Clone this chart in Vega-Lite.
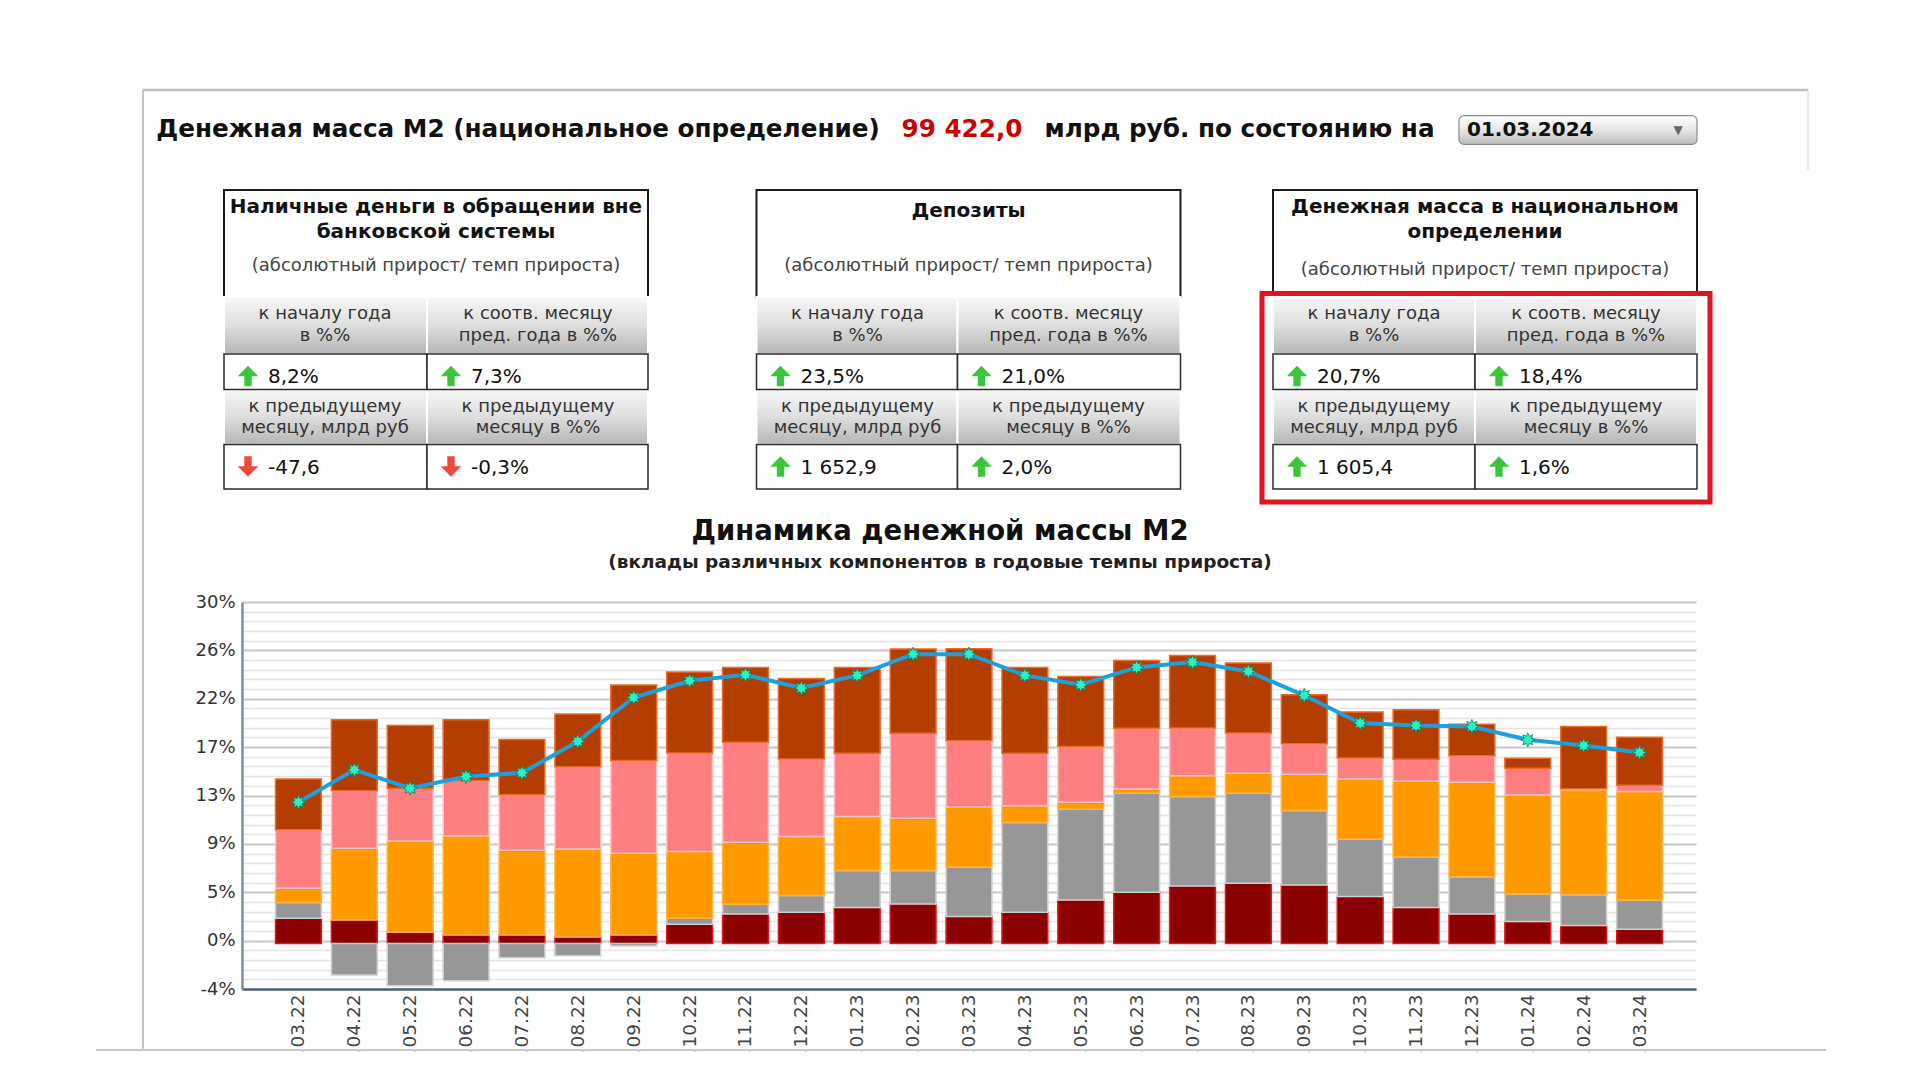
{
  "$schema": "https://vega.github.io/schema/vega-lite/v6.json",
  "background": "white",
  "padding": {"left": 95, "top": 88, "right": 0, "bottom": 0},
  "config": {
    "view": {"stroke": null},
    "font": "DejaVu Sans",
    "concat": {"spacing": 0}
  },
  "datasets": {
    "comp": [
      {"m":".03.22","c":"cash","v":2.21},{"m":".03.22","c":"dep1","v":1.38},{"m":".03.22","c":"dep2","v":1.26},{"m":".03.22","c":"dep3","v":5.13},{"m":".03.22","c":"dep4","v":4.48},
      {"m":".04.22","c":"cash","v":2.07},{"m":".04.22","c":"dep1","v":-2.77},{"m":".04.22","c":"dep2","v":6.30},{"m":".04.22","c":"dep3","v":5.04},{"m":".04.22","c":"dep4","v":6.24},
      {"m":".05.22","c":"cash","v":0.98},{"m":".05.22","c":"dep1","v":-3.71},{"m":".05.22","c":"dep2","v":8.03},{"m":".05.22","c":"dep3","v":4.63},{"m":".05.22","c":"dep4","v":5.51},
      {"m":".06.22","c":"cash","v":0.75},{"m":".06.22","c":"dep1","v":-3.27},{"m":".06.22","c":"dep2","v":8.70},{"m":".06.22","c":"dep3","v":4.87},{"m":".06.22","c":"dep4","v":5.33},
      {"m":".07.22","c":"cash","v":0.75},{"m":".07.22","c":"dep1","v":-1.25},{"m":".07.22","c":"dep2","v":7.44},{"m":".07.22","c":"dep3","v":4.87},{"m":".07.22","c":"dep4","v":4.87},
      {"m":".08.22","c":"cash","v":0.57},{"m":".08.22","c":"dep1","v":-1.07},{"m":".08.22","c":"dep2","v":7.74},{"m":".08.22","c":"dep3","v":7.21},{"m":".08.22","c":"dep4","v":4.63},
      {"m":".09.22","c":"cash","v":0.75},{"m":".09.22","c":"dep1","v":-0.22},{"m":".09.22","c":"dep2","v":7.18},{"m":".09.22","c":"dep3","v":8.15},{"m":".09.22","c":"dep4","v":6.62},
      {"m":".10.22","c":"cash","v":1.69},{"m":".10.22","c":"dep1","v":0.53},{"m":".10.22","c":"dep2","v":5.86},{"m":".10.22","c":"dep3","v":8.65},{"m":".10.22","c":"dep4","v":7.12},
      {"m":".11.22","c":"cash","v":2.59},{"m":".11.22","c":"dep1","v":0.85},{"m":".11.22","c":"dep2","v":5.45},{"m":".11.22","c":"dep3","v":8.79},{"m":".11.22","c":"dep4","v":6.57},
      {"m":".12.22","c":"cash","v":2.74},{"m":".12.22","c":"dep1","v":1.47},{"m":".12.22","c":"dep2","v":5.19},{"m":".12.22","c":"dep3","v":6.80},{"m":".12.22","c":"dep4","v":7.09},
      {"m":".01.23","c":"cash","v":3.15},{"m":".01.23","c":"dep1","v":3.25},{"m":".01.23","c":"dep2","v":4.75},{"m":".01.23","c":"dep3","v":5.57},{"m":".01.23","c":"dep4","v":7.53},
      {"m":".02.23","c":"cash","v":3.47},{"m":".02.23","c":"dep1","v":2.93},{"m":".02.23","c":"dep2","v":4.60},{"m":".02.23","c":"dep3","v":7.47},{"m":".02.23","c":"dep4","v":7.39},
      {"m":".03.23","c":"cash","v":2.36},{"m":".03.23","c":"dep1","v":4.34},{"m":".03.23","c":"dep2","v":5.28},{"m":".03.23","c":"dep3","v":5.83},{"m":".03.23","c":"dep4","v":8.09},
      {"m":".04.23","c":"cash","v":2.74},{"m":".04.23","c":"dep1","v":7.88},{"m":".04.23","c":"dep2","v":1.49},{"m":".04.23","c":"dep3","v":4.60},{"m":".04.23","c":"dep4","v":7.53},
      {"m":".05.23","c":"cash","v":3.82},{"m":".05.23","c":"dep1","v":8.00},{"m":".05.23","c":"dep2","v":0.59},{"m":".05.23","c":"dep3","v":4.89},{"m":".05.23","c":"dep4","v":6.15},
      {"m":".06.23","c":"cash","v":4.50},{"m":".06.23","c":"dep1","v":8.70},{"m":".06.23","c":"dep2","v":0.38},{"m":".06.23","c":"dep3","v":5.33},{"m":".06.23","c":"dep4","v":5.95},
      {"m":".07.23","c":"cash","v":5.06},{"m":".07.23","c":"dep1","v":7.85},{"m":".07.23","c":"dep2","v":1.82},{"m":".07.23","c":"dep3","v":4.19},{"m":".07.23","c":"dep4","v":6.39},
      {"m":".08.23","c":"cash","v":5.29},{"m":".08.23","c":"dep1","v":7.91},{"m":".08.23","c":"dep2","v":1.76},{"m":".08.23","c":"dep3","v":3.52},{"m":".08.23","c":"dep4","v":6.15},
      {"m":".09.23","c":"cash","v":5.14},{"m":".09.23","c":"dep1","v":6.54},{"m":".09.23","c":"dep2","v":3.19},{"m":".09.23","c":"dep3","v":2.67},{"m":".09.23","c":"dep4","v":4.31},
      {"m":".10.23","c":"cash","v":4.12},{"m":".10.23","c":"dep1","v":5.04},{"m":".10.23","c":"dep2","v":5.28},{"m":".10.23","c":"dep3","v":1.85},{"m":".10.23","c":"dep4","v":4.04},
      {"m":".11.23","c":"cash","v":3.15},{"m":".11.23","c":"dep1","v":4.45},{"m":".11.23","c":"dep2","v":6.68},{"m":".11.23","c":"dep3","v":1.91},{"m":".11.23","c":"dep4","v":4.34},
      {"m":".12.23","c":"cash","v":2.59},{"m":".12.23","c":"dep1","v":3.28},{"m":".12.23","c":"dep2","v":8.29},{"m":".12.23","c":"dep3","v":2.34},{"m":".12.23","c":"dep4","v":2.76},
      {"m":".01.24","c":"cash","v":1.92},{"m":".01.24","c":"dep1","v":2.43},{"m":".01.24","c":"dep2","v":8.70},{"m":".01.24","c":"dep3","v":2.34},{"m":".01.24","c":"dep4","v":0.88},
      {"m":".02.24","c":"cash","v":1.57},{"m":".02.24","c":"dep1","v":2.70},{"m":".02.24","c":"dep2","v":9.23},{"m":".02.24","c":"dep3","v":0.09},{"m":".02.24","c":"dep4","v":5.48},
      {"m":".03.24","c":"cash","v":1.25},{"m":".03.24","c":"dep1","v":2.58},{"m":".03.24","c":"dep2","v":9.53},{"m":".03.24","c":"dep3","v":0.53},{"m":".03.24","c":"dep4","v":4.22}
    ],
    "m2": [
      {"m":".03.22","g":12.41},{"m":".04.22","g":15.25},{"m":".05.22","g":13.64},{"m":".06.22","g":14.67},{"m":".07.22","g":14.99},
      {"m":".08.22","g":17.75},{"m":".09.22","g":21.61},{"m":".10.22","g":23.08},{"m":".11.22","g":23.61},{"m":".12.22","g":22.44},
      {"m":".01.23","g":23.55},{"m":".02.23","g":25.42},{"m":".03.23","g":25.42},{"m":".04.23","g":23.55},{"m":".05.23","g":22.73},
      {"m":".06.23","g":24.25},{"m":".07.23","g":24.72},{"m":".08.23","g":23.90},{"m":".09.23","g":21.79},{"m":".10.23","g":19.36},
      {"m":".11.23","g":19.15},{"m":".12.23","g":19.06},{"m":".01.24","g":17.89},{"m":".02.24","g":17.39},{"m":".03.24","g":16.78}
    ],
    "cells": [
      {"tbl":"t1","kind":"title","r":0,"r2":1,"c":0,"c2":2,"txt":"Наличные деньги в обращении вне\nбанковской системы","sub":"(абсолютный прирост/ темп прироста)"},
      {"tbl":"t1","kind":"head","r":1,"r2":2,"c":0,"c2":1,"txt":"к началу года\nв %%"},
      {"tbl":"t1","kind":"head","r":1,"r2":2,"c":1,"c2":2,"txt":"к соотв. месяцу\nпред. года в %%"},
      {"tbl":"t1","kind":"val","r":2,"r2":3,"c":0,"c2":1,"txt":"8,2%","dir":"up"},
      {"tbl":"t1","kind":"val","r":2,"r2":3,"c":1,"c2":2,"txt":"7,3%","dir":"up"},
      {"tbl":"t1","kind":"head","r":3,"r2":4,"c":0,"c2":1,"txt":"к предыдущему\nмесяцу, млрд руб"},
      {"tbl":"t1","kind":"head","r":3,"r2":4,"c":1,"c2":2,"txt":"к предыдущему\nмесяцу в %%"},
      {"tbl":"t1","kind":"val","r":4,"r2":5,"c":0,"c2":1,"txt":"-47,6","dir":"down"},
      {"tbl":"t1","kind":"val","r":4,"r2":5,"c":1,"c2":2,"txt":"-0,3%","dir":"down"},
      {"tbl":"t2","kind":"title","r":0,"r2":1,"c":3,"c2":5,"txt":"Депозиты","sub":"(абсолютный прирост/ темп прироста)"},
      {"tbl":"t2","kind":"head","r":1,"r2":2,"c":3,"c2":4,"txt":"к началу года\nв %%"},
      {"tbl":"t2","kind":"head","r":1,"r2":2,"c":4,"c2":5,"txt":"к соотв. месяцу\nпред. года в %%"},
      {"tbl":"t2","kind":"val","r":2,"r2":3,"c":3,"c2":4,"txt":"23,5%","dir":"up"},
      {"tbl":"t2","kind":"val","r":2,"r2":3,"c":4,"c2":5,"txt":"21,0%","dir":"up"},
      {"tbl":"t2","kind":"head","r":3,"r2":4,"c":3,"c2":4,"txt":"к предыдущему\nмесяцу, млрд руб"},
      {"tbl":"t2","kind":"head","r":3,"r2":4,"c":4,"c2":5,"txt":"к предыдущему\nмесяцу в %%"},
      {"tbl":"t2","kind":"val","r":4,"r2":5,"c":3,"c2":4,"txt":"1 652,9","dir":"up"},
      {"tbl":"t2","kind":"val","r":4,"r2":5,"c":4,"c2":5,"txt":"2,0%","dir":"up"},
      {"tbl":"t3","kind":"title","r":0,"r2":1,"c":6,"c2":8,"txt":"Денежная масса в национальном\nопределении","sub":"(абсолютный прирост/ темп прироста)"},
      {"tbl":"t3","kind":"head","r":1,"r2":2,"c":6,"c2":7,"txt":"к началу года\nв %%"},
      {"tbl":"t3","kind":"head","r":1,"r2":2,"c":7,"c2":8,"txt":"к соотв. месяцу\nпред. года в %%"},
      {"tbl":"t3","kind":"val","r":2,"r2":3,"c":6,"c2":7,"txt":"20,7%","dir":"up"},
      {"tbl":"t3","kind":"val","r":2,"r2":3,"c":7,"c2":8,"txt":"18,4%","dir":"up"},
      {"tbl":"t3","kind":"head","r":3,"r2":4,"c":6,"c2":7,"txt":"к предыдущему\nмесяцу, млрд руб"},
      {"tbl":"t3","kind":"head","r":3,"r2":4,"c":7,"c2":8,"txt":"к предыдущему\nмесяцу в %%"},
      {"tbl":"t3","kind":"val","r":4,"r2":5,"c":6,"c2":7,"txt":"1 605,4","dir":"up"},
      {"tbl":"t3","kind":"val","r":4,"r2":5,"c":7,"c2":8,"txt":"1,6%","dir":"up"}
    ]
  },
  "bounds": "flush",
  "spacing": 0,
  "resolve": {"scale": {"color": "independent", "shape": "independent", "stroke": "independent"}},
  "vconcat": [
    {
      "width": 1454, "height": 80,
      "data": {"values": [
        {"slot": 1, "t": "Денежная масса М2 (национальное определение)"},
        {"slot": 2, "t": "99 422,0"},
        {"slot": 3, "t": "млрд руб. по состоянию на"}
      ]},
      "layer": [
        {
          "data": {"values": [{}]},
          "mark": {"type": "rule", "color": "#c4c4c4", "strokeWidth": 2},
          "encoding": {
            "x": {"datum": 0, "type": "quantitative", "scale": {"type": "linear", "domain": [0, 1, 2, 3, 4, 5, 6], "range": [-99, 276, 720, 997.5, 1217, 1455, 1566], "nice": false, "zero": false}, "axis": null},
            "y": {"datum": 0, "type": "quantitative", "scale": {"type": "linear", "domain": [0, 1], "range": [0, 80], "nice": false, "zero": false}, "axis": null},
            "y2": {"datum": 11.99}
          }
        },
        {
          "data": {"values": [{}]},
          "mark": {"type": "rule", "color": "#bdbdbd", "strokeWidth": 2.5},
          "encoding": {"x": {"datum": 0, "type": "quantitative"}, "x2": {"datum": 6}, "y": {"datum": 0, "type": "quantitative"}}
        },
        {
          "data": {"values": [{}]},
          "mark": {"type": "rule", "color": "#e2e2e2", "strokeWidth": 1.5},
          "encoding": {"x": {"datum": 6, "type": "quantitative"}, "y": {"datum": 0, "type": "quantitative"}, "y2": {"datum": 1}}
        },
        {
          "data": {"values": [{}]},
          "mark": {"type": "rect", "cornerRadius": 5, "stroke": "#8a8a8a", "strokeWidth": 1.2,
            "fill": {"gradient": "linear", "x1": 0, "y1": 0, "x2": 0, "y2": 1,
              "stops": [{"offset": 0, "color": "#ffffff"}, {"offset": 0.5, "color": "#e6e6e6"}, {"offset": 1, "color": "#bdbdbd"}]}},
          "encoding": {"x": {"datum": 4, "type": "quantitative"}, "x2": {"datum": 5}, "y": {"datum": 0.32, "type": "quantitative"}, "y2": {"datum": 0.68}}
        },
        {
          "mark": {"type": "text", "fontSize": 24.7, "fontWeight": "bold", "baseline": "middle"},
          "encoding": {
            "x": {"field": "slot", "type": "quantitative"},
            "y": {"datum": 0.5, "type": "quantitative"},
            "text": {"field": "t"},
            "color": {"condition": {"test": "datum.slot == 2", "value": "#cc0000"}, "value": "#111111"}
          }
        },
        {
          "data": {"values": [{"slot": 4, "t": "01.03.2024"}]},
          "mark": {"type": "text", "fontSize": 20, "fontWeight": "bold", "color": "#111111", "align": "left", "baseline": "middle", "dx": 8},
          "encoding": {"x": {"field": "slot", "type": "quantitative"}, "y": {"datum": 0.5, "type": "quantitative"}, "text": {"field": "t"}}
        },
        {
          "data": {"values": [{"slot": 5, "t": "▼"}]},
          "mark": {"type": "text", "fontSize": 12, "color": "#666666", "baseline": "middle", "dx": -19},
          "encoding": {"x": {"field": "slot", "type": "quantitative"}, "y": {"datum": 0.5, "type": "quantitative"}, "text": {"field": "t"}}
        }
      ]
    },
    {"width": 10, "height": 19.6, "data": {"values": []}, "mark": "point"},
    {
      "width": 1454, "height": 299,
      "data": {"name": "cells"},
      "layer": [
        {"transform": [{"filter": "datum.kind == 'title'"}], "mark": {"type": "rect", "fill": "white", "stroke": "#1a1a1a", "strokeWidth": 2},
          "encoding": {
            "x": {"field": "c", "type": "quantitative", "scale": {"type": "linear", "domain": [0, 1, 2, 3, 4, 5, 6, 7, 8], "range": [-18, 185, 406, 514.5, 715.5, 938.5, 1031, 1233, 1455], "nice": false, "zero": false}, "axis": null},
            "x2": {"field": "c2"},
            "y": {"field": "r", "type": "quantitative", "scale": {"type": "linear", "domain": [0, 1, 2, 3, 4, 5], "range": [0, 107, 164, 199.5, 254.5, 299], "nice": false, "zero": false}, "axis": null},
            "y2": {"field": "r2"}
          }},
        {"transform": [{"filter": "datum.kind == 'head'"}], "mark": {"type": "rect", "stroke": "white", "strokeWidth": 2,
          "fill": {"gradient": "linear", "x1": 0, "y1": 0, "x2": 0, "y2": 1, "stops": [{"offset": 0, "color": "#f7f7f7"}, {"offset": 0.5, "color": "#dedede"}, {"offset": 1, "color": "#b5b5b5"}]}},
          "encoding": {"x": {"field": "c", "type": "quantitative"}, "x2": {"field": "c2"}, "y": {"field": "r", "type": "quantitative"}, "y2": {"field": "r2"}}},
        {"transform": [{"filter": "datum.kind == 'val'"}], "mark": {"type": "rect", "fill": "white", "stroke": "#2b2b2b", "strokeWidth": 1.5},
          "encoding": {"x": {"field": "c", "type": "quantitative"}, "x2": {"field": "c2"}, "y": {"field": "r", "type": "quantitative"}, "y2": {"field": "r2"}}},
        {"transform": [{"filter": "datum.kind == 'title'"}], "mark": {"type": "text", "fontSize": 20, "fontWeight": "bold", "color": "#111111", "baseline": "top", "lineBreak": "\n", "lineHeight": 25, "dx": 212, "dy": {"expr": "datum.tbl == 't2' ? 11 : 7"}},
          "encoding": {"x": {"field": "c", "type": "quantitative"}, "y": {"field": "r", "type": "quantitative"}, "text": {"field": "txt"}}},
        {"transform": [{"filter": "datum.kind == 'title'"}], "mark": {"type": "text", "fontSize": 18, "color": "#444444", "baseline": "middle", "dx": 212, "dy": {"expr": "datum.tbl == 't3' ? 80 : 76"}},
          "encoding": {"x": {"field": "c", "type": "quantitative"}, "y": {"field": "r", "type": "quantitative"}, "text": {"field": "sub"}}},
        {"transform": [{"filter": "datum.kind == 'head'"}], "mark": {"type": "text", "fontSize": 18, "color": "#333333", "baseline": "middle", "lineBreak": "\n", "lineHeight": 21.5, "dx": {"expr": "datum.c % 3 == 0 ? 101 : 111"}, "dy": 17},
          "encoding": {"x": {"field": "c", "type": "quantitative"}, "y": {"field": "r", "type": "quantitative"}, "text": {"field": "txt"}}},
        {"transform": [{"filter": "datum.kind == 'val'"}], "mark": {"type": "point", "filled": true, "size": 420, "opacity": 1, "xOffset": 24, "yOffset": 22},
          "encoding": {
            "x": {"field": "c", "type": "quantitative"},
            "y": {"field": "r", "type": "quantitative"},
            "shape": {"field": "dir", "type": "nominal", "scale": {"domain": ["up", "down"], "range": ["M0,-1L1,0.02L0.36,0.02L0.36,1L-0.36,1L-0.36,0.02L-1,0.02Z", "M0,1L1,-0.02L0.36,-0.02L0.36,-1L-0.36,-1L-0.36,-0.02L-1,-0.02Z"]}, "legend": null},
            "color": {"field": "dir", "type": "nominal", "scale": {"domain": ["up", "down"], "range": ["#3cc43c", "#ee4a3a"]}, "legend": null}
          }},
        {"transform": [{"filter": "datum.kind == 'val'"}], "mark": {"type": "text", "fontSize": 20, "color": "#111111", "align": "left", "baseline": "middle", "dx": 44, "dy": 23},
          "encoding": {"x": {"field": "c", "type": "quantitative"}, "y": {"field": "r", "type": "quantitative"}, "text": {"field": "txt"}}},
        {
          "data": {"values": [{}]},
          "mark": {"type": "rect", "fill": "transparent", "stroke": "#e3141e", "strokeWidth": 5},
          "encoding": {"x": {"datum": 5.881, "type": "quantitative"}, "x2": {"datum": 8.0586}, "y": {"datum": 0.967, "type": "quantitative"}, "y2": {"datum": 5.292}}
        }
      ]
    },
    {"width": 10, "height": 112.4, "data": {"values": []}, "mark": "point"},
    {
      "width": 1454, "height": 387,
      "title": {
        "text": "Динамика денежной массы М2",
        "subtitle": "(вклады различных компонентов в годовые темпы прироста)",
        "font": "DejaVu Sans", "fontSize": 27.5, "fontWeight": "bold", "color": "#111111",
        "subtitleFont": "DejaVu Sans", "subtitleFontSize": 18.5, "subtitleFontWeight": "bold", "subtitleColor": "#222222",
        "subtitlePadding": 7, "offset": 22, "anchor": "middle", "dx": -29
      },
      "resolve": {"axis": {"y": "independent"}},
      "layer": [
        {
          "data": {"name": "comp"},
          "mark": {"type": "bar", "strokeWidth": 1.5},
          "encoding": {
            "x": {"field": "m", "type": "nominal", "sort": null,
              "scale": {"paddingInner": 0.18, "paddingOuter": 0.6},
              "axis": {"title": null, "labelAngle": -90, "labelFontSize": 18.5, "labelColor": "#444444", "labelPadding": 5, "ticks": false, "domainColor": "#4f6080", "domainWidth": 2.5, "grid": false}},
            "y": {"field": "v", "type": "quantitative", "stack": "zero",
              "scale": {"domain": [-4, 30], "nice": false, "zero": false},
              "axis": {"orient": "left", "title": null, "labels": false, "ticks": false, "domain": false, "grid": true, "gridColor": "#e4e4e4", "gridWidth": 1.5,
                "values": [-4, -3.15, -2.3, -1.45, -0.6, 0.25, 1.1, 1.95, 2.8, 3.65, 4.5, 5.35, 6.2, 7.05, 7.9, 8.75, 9.6, 10.45, 11.3, 12.15, 13, 13.85, 14.7, 15.55, 16.4, 17.25, 18.1, 18.95, 19.8, 20.65, 21.5, 22.35, 23.2, 24.05, 24.9, 25.75, 26.6, 27.45, 28.3, 29.15, 30]}},
            "color": {"field": "c", "type": "nominal", "scale": {"domain": ["cash", "dep1", "dep2", "dep3", "dep4"], "range": ["#8b0000", "#979797", "#ff9900", "#ff7f80", "#b33e00"]}, "legend": null},
            "stroke": {"field": "c", "type": "nominal", "scale": {"domain": ["cash", "dep1", "dep2", "dep3", "dep4"], "range": ["#e4161b", "#cfcfcf", "#ffb347", "#ffc4c4", "#ee6a24"]}, "legend": null},
            "order": {"field": "c", "sort": "ascending"}
          }
        },
        {
          "data": {"name": "m2"},
          "mark": {"type": "line", "color": "#1da1de", "strokeWidth": 4},
          "encoding": {
            "x": {"field": "m", "type": "nominal", "sort": null},
            "y": {"field": "g", "type": "quantitative",
              "axis": {"orient": "left", "title": null, "values": [-4, 0.25, 4.5, 8.75, 13, 17.25, 21.5, 25.75, 30], "labelExpr": "round(datum.value) + '%'",
                "grid": true, "gridColor": "#c9c9c9", "gridWidth": 2, "domain": true, "domainColor": "#7f8ea6", "domainWidth": 2.5, "ticks": false,
                "labelFontSize": 18, "labelColor": "#333333", "labelPadding": 7}}
          }
        },
        {
          "data": {"name": "m2"},
          "mark": {"type": "point", "filled": true, "opacity": 1, "size": 200, "fill": "#2eefc4", "stroke": "#137a66", "strokeWidth": 0.8,
            "shape": "M0,-1L0.21,-0.51L0.71,-0.71L0.51,-0.21L1,0L0.51,0.21L0.71,0.71L0.21,0.51L0,1L-0.21,0.51L-0.71,0.71L-0.51,0.21L-1,0L-0.51,-0.21L-0.71,-0.71L-0.21,-0.51Z"},
          "encoding": {
            "x": {"field": "m", "type": "nominal", "sort": null},
            "y": {"field": "g", "type": "quantitative", "axis": null}
          }
        }
      ]
    },
    {
      "width": 1454, "height": 61,
      "data": {"values": [{}]},
      "mark": {"type": "rule", "color": "#c8c8c8", "strokeWidth": 2},
      "encoding": {
        "x": {"datum": 0, "type": "quantitative", "scale": {"domain": [0, 1], "range": [-146, 1584], "nice": false, "zero": false}, "axis": null},
        "x2": {"datum": 1},
        "y": {"datum": 1, "type": "quantitative", "scale": {"domain": [0, 1], "range": [0, 61], "nice": false, "zero": false}, "axis": null}
      }
    }
  ]
}
